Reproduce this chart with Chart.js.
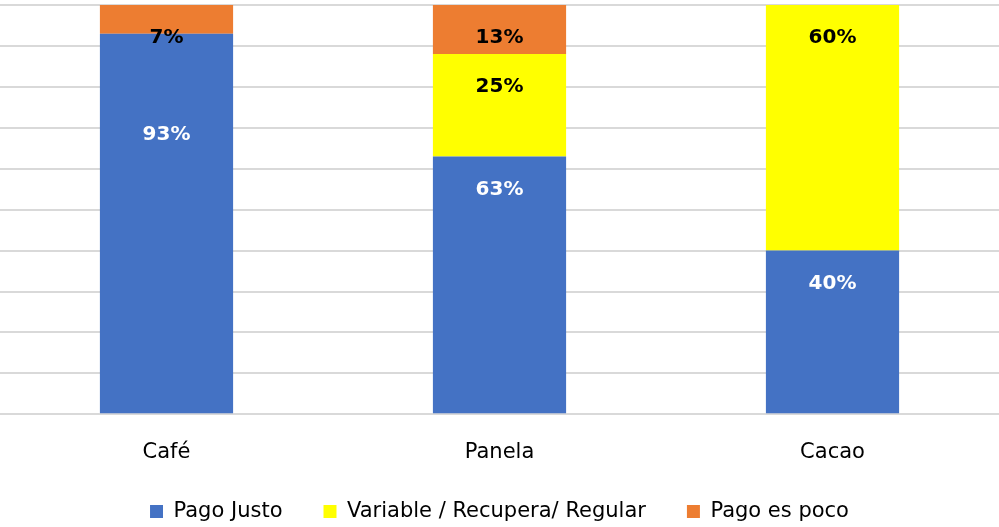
<!DOCTYPE html>
<html>
<head>
<meta charset="utf-8">
<script src="https://cdn.jsdelivr.net/npm/chart.js@4/dist/chart.umd.min.js"></script>
<style>
  html, body { margin: 0; padding: 0; background: #fff; }
  #wrap { width: 999px; height: 527px; }
</style>
</head>
<body>
<div id="wrap"><canvas id="grafico"></canvas></div>
<script>
// Percepción del pago por producto (%)
const productos = ['Café', 'Panela', 'Cacao'];
const pagoJusto = [93, 63, 40];
const variable = [0, 25, 60];
const pagoPoco = [7, 13, 0];
const yTicks = [0, 10, 20, 30, 40, 50, 60, 70, 80, 90, 100];

const FONT = "'DejaVu Sans', sans-serif";

// Etiquetas de valor, dibujadas bajo el borde superior de cada segmento
const etiquetas = {
    id: 'etiquetas',
    afterDatasetsDraw(chart) {
        const ctx = chart.ctx;
        const area = chart.chartArea;
        ctx.save();
        ctx.font = 'bold 20px ' + FONT;
        ctx.textAlign = 'center';
        ctx.textBaseline = 'middle';
        chart.data.datasets.forEach((ds, i) => {
            const meta = chart.getDatasetMeta(i);
            meta.data.forEach((bar, j) => {
                const v = ds.data[j];
                if (!v) return;
                const top = Math.max(bar.y, area.top);
                // el segmento de Pago Justo en Café lleva la etiqueta más abajo
                const desp = (i === 0 && j === 0) ? 101 : 33;
                ctx.fillStyle = ds.labelColor;
                ctx.fillText(v + '%', bar.x, top + desp);
            });
        });
        ctx.restore();
    }
};

new Chart(document.getElementById('grafico'), {
    type: 'bar',
    data: {
        labels: productos,
        datasets: [
            { label: 'Pago Justo', data: pagoJusto, backgroundColor: '#4472C4', labelColor: '#ffffff' },
            { label: 'Variable / Recupera/ Regular', data: variable, backgroundColor: '#FFFF00', labelColor: '#000000' },
            { label: 'Pago es poco', data: pagoPoco, backgroundColor: '#ED7D31', labelColor: '#000000' }
        ]
    },
    options: {
        responsive: true,
        maintainAspectRatio: false,
        animation: false,
        layout: { padding: { top: 5, left: 0, right: 0, bottom: 0 } },
        datasets: { bar: { categoryPercentage: 1, barPercentage: 0.4 } },
        plugins: {
            legend: {
                position: 'bottom',
                maxHeight: 67,
                labels: {
                    font: { family: FONT, size: 21 },
                    color: '#000',
                    boxWidth: 13,
                    boxHeight: 13,
                    padding: 41
                }
            },
            tooltip: { enabled: false }
        },
        scales: {
            x: {
                stacked: true,
                grid: { display: false, drawTicks: false },
                border: { display: false },
                ticks: { font: { family: FONT, size: 21, lineHeight: 0.7 }, color: '#000', padding: 31 },
                // solo el espacio superior del padding cuenta en la altura del eje
                afterFit: axis => { axis.height = 31 + 14.7; }
            },
            y: {
                stacked: true,
                min: 0,
                max: 100,
                afterBuildTicks: axis => { axis.ticks = yTicks.map(v => ({ value: v })); },
                ticks: { display: false },
                grid: { color: '#d9d9d9', lineWidth: 2, drawTicks: false },
                border: { display: false }
            }
        }
    },
    plugins: [etiquetas]
});
</script>
</body>
</html>
